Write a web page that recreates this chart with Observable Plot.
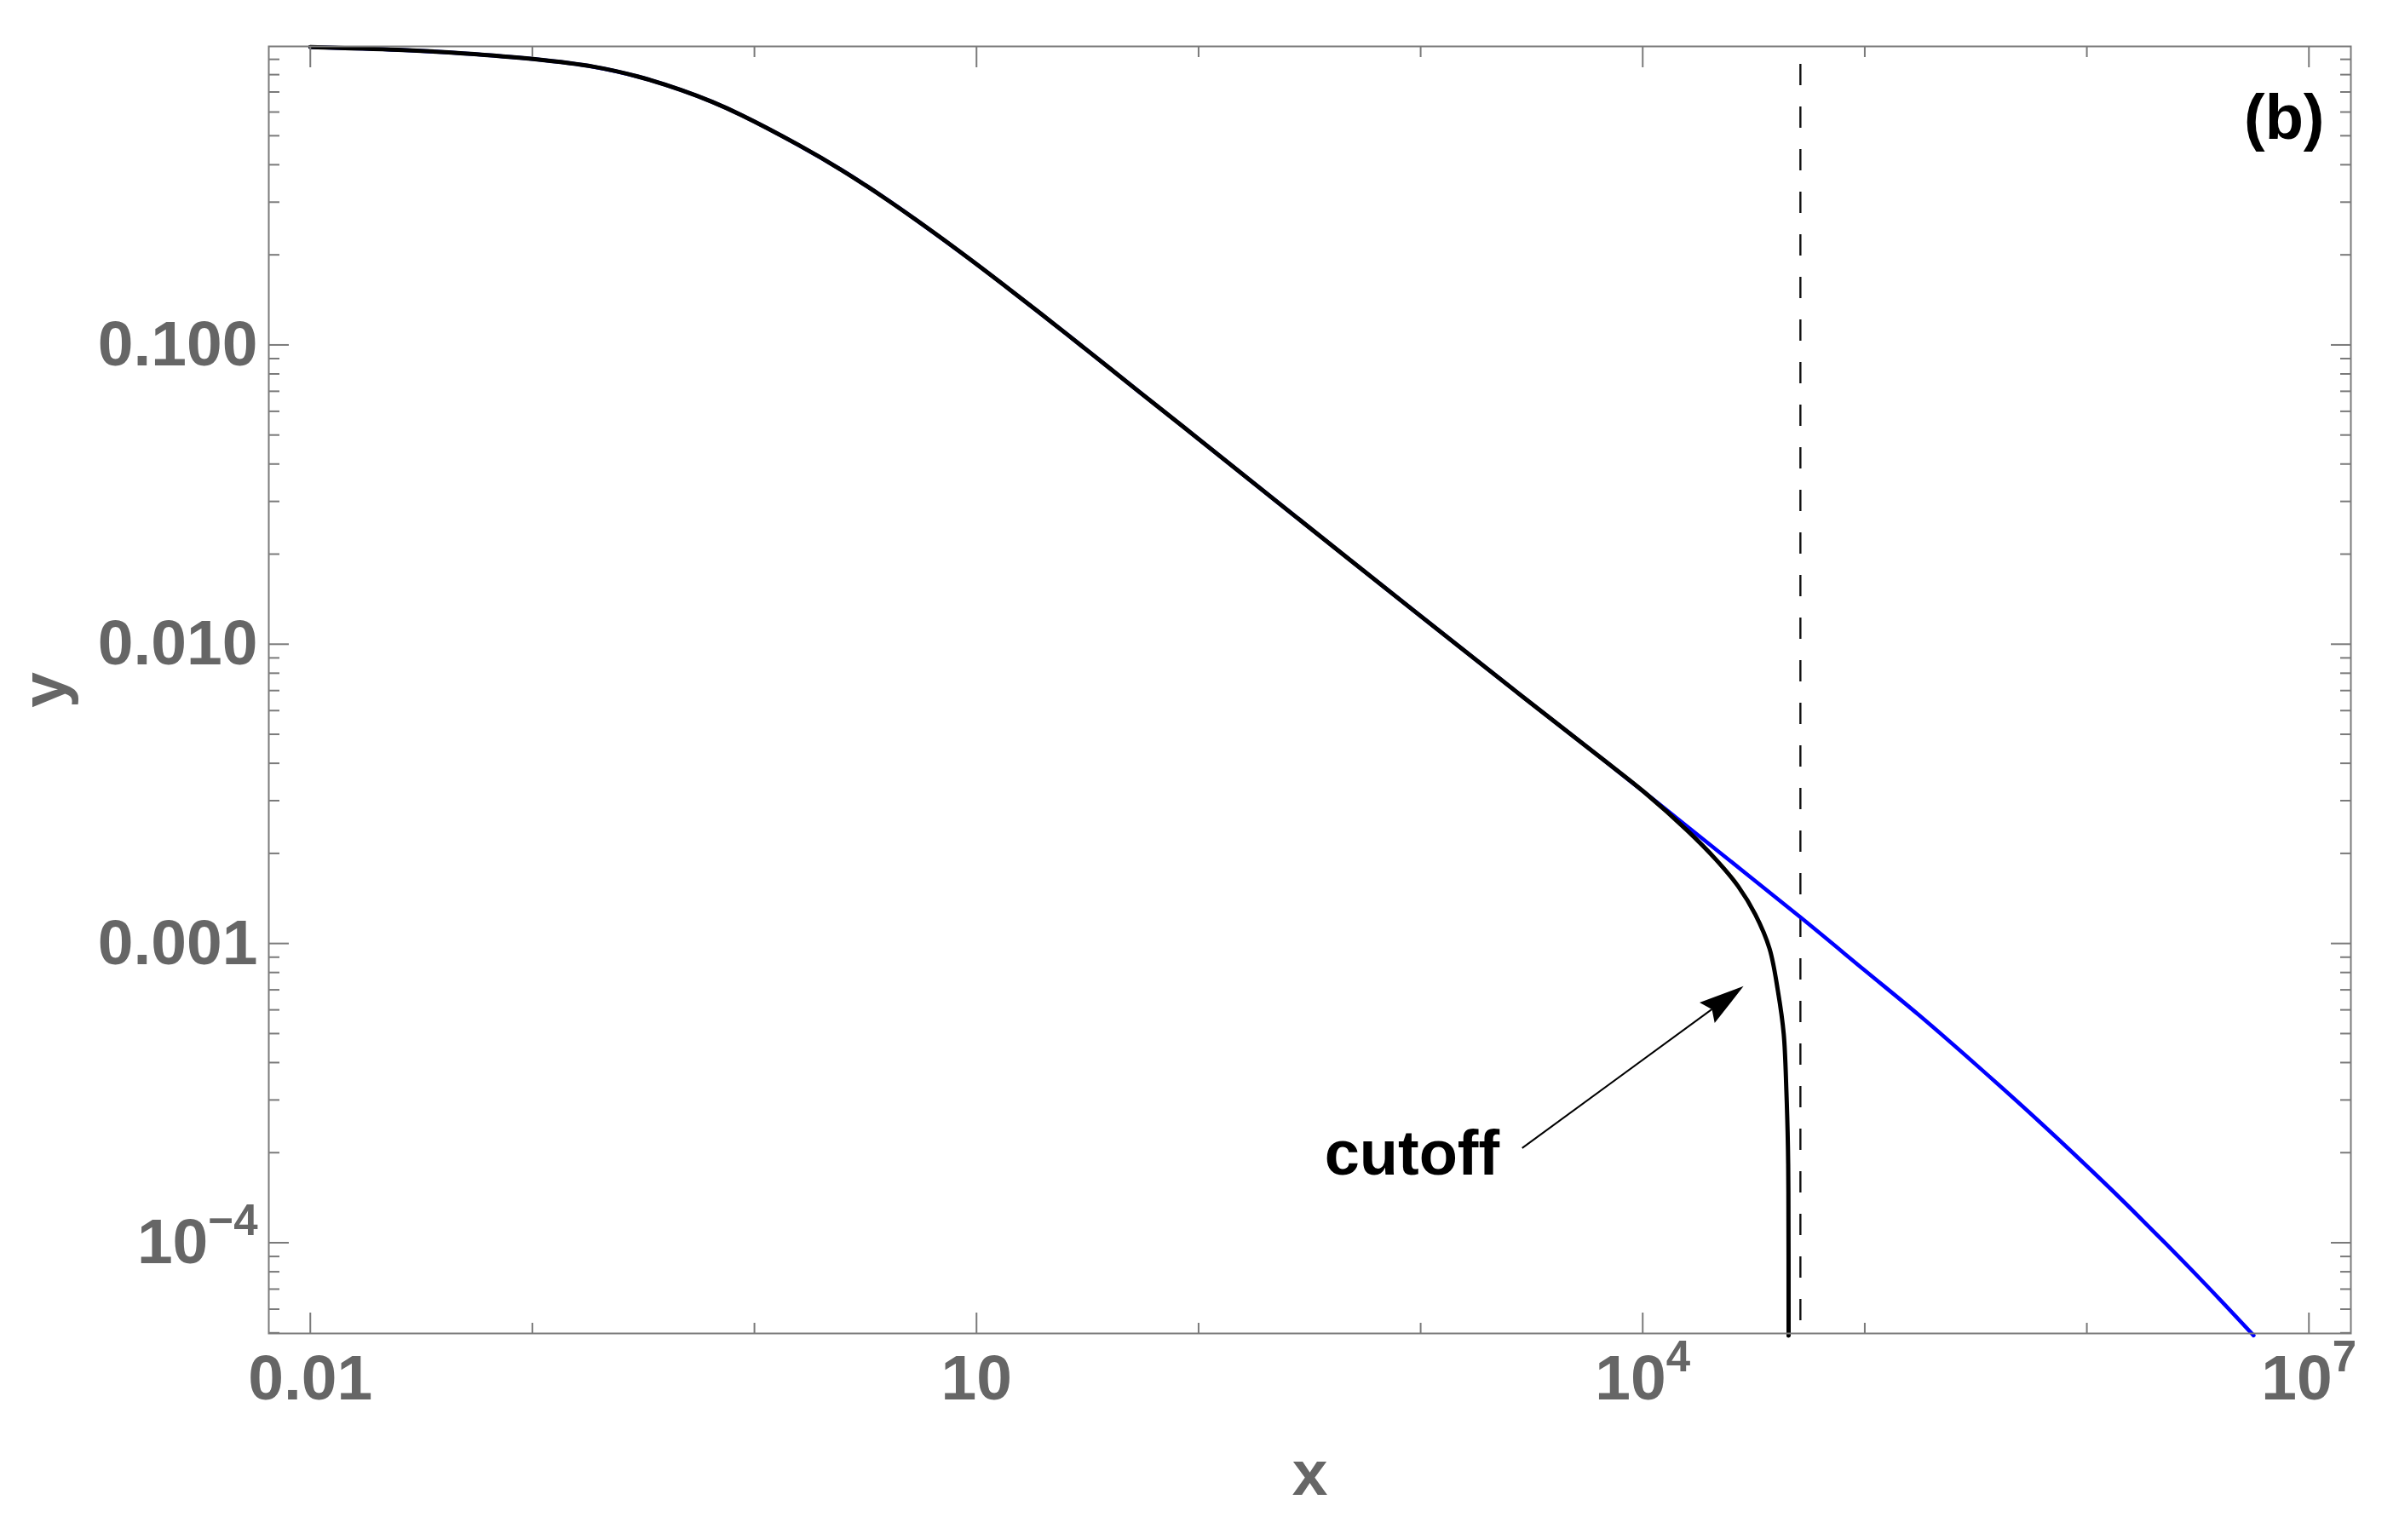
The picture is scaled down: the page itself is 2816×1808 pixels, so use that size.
<!DOCTYPE html>
<html>
<head>
<meta charset="utf-8">
<script src="https://cdn.jsdelivr.net/npm/d3@7"></script>
<script src="https://cdn.jsdelivr.net/npm/@observablehq/plot@0.6"></script>
<style>
  html, body { margin: 0; padding: 0; background: #ffffff; }
  #chart svg { display: block; }
</style>
</head>
<body>
<div id="chart"></div>
<script>
// ---- data ----
const blackX = [0.01, 0.02489, 0.04898, 0.1007, 0.1892, 0.2972, 0.4667, 0.6457, 0.875, 1.578, 2.455, 3.819, 5.929, 9.226,
  14.36, 22.34, 34.67, 53.95, 86.5, 472.1, 2931, 6546, 10190, 15850, 21280, 26920, 32140, 37240, 40640, 43150, 44360, 45080, 45290, 45390];
const blackY = [0.9895, 0.9681, 0.9421, 0.9022, 0.8499, 0.7889, 0.7112, 0.6486, 0.5857, 0.4658, 0.3849, 0.3112, 0.2477, 0.1947,
  0.1516, 0.1174, 0.09067, 0.06976, 0.05284, 0.01932, 0.006607, 0.00415, 0.003199, 0.002388, 0.001914, 0.001552, 0.00125, 0.0009616, 0.0006934, 0.0004989, 0.0003221, 0.0002084, 0.0001469, 0.000049];

const blueX = [0.01, 0.02489, 0.04898, 0.1007, 0.1892, 0.2972, 0.4667, 0.6457, 0.875, 1.578, 2.455, 3.819, 5.929, 9.226,
  14.36, 22.34, 34.67, 53.95, 86.5, 472.1, 2931, 6546, 10190, 15850, 51400, 100000, 174600, 321400, 620900, 1.2e6, 1.799e6, 3.311e6, 5.636e6];
const blueY = [0.9895, 0.9681, 0.9421, 0.9022, 0.8499, 0.7889, 0.7112, 0.6486, 0.5857, 0.4658, 0.3849, 0.3112, 0.2477, 0.1947,
  0.1516, 0.1174, 0.09067, 0.06976, 0.05284, 0.01932, 0.006607, 0.00415, 0.003199, 0.00246, 0.001222, 0.000813, 0.000578, 0.00039, 0.0002512, 0.0001585, 0.000118, 0.00007447, 0.000049];

const cutoffLineX = [51300];

const xMajorTicks = [0.01, 10, 1e4, 1e7];
const xMajorLabels = ["0.01", "10", "10^4", "10^7"];
const xMinorTicks = [0.1, 1, 100, 1000, 1e5, 1e6];
const yMajorTicks = [0.1, 0.01, 0.001, 1e-4];
const yMajorLabels = ["0.100", "0.010", "0.001", "10^\u22124"];
const yMinorMantissas = [2, 3, 4, 5, 6, 7, 8, 9];
const yMinorExponents = [-1, -2, -3, -4, -5];

const annotationText = ["cutoff"];
const annotationX = [914];
const annotationY = [1.694e-4];
const arrowFrom = [2877, 2.065e-4];
const arrowTo = [28580, 7.18e-4];
const panelLabel = ["(b)"];

const xDomain = [0.006501, 1.545e7];
const yDomain = [4.977e-5, 0.994];

// ---- build tables ----
const blackData = blackX.map((x, i) => ({x, y: blackY[i]}));
const blueData = blueX.map((x, i) => ({x, y: blueY[i]}));
const yMinorTicks = [];
for (const e of yMinorExponents) for (const m of yMinorMantissas) {
  const v = m * Math.pow(10, e);
  if (v >= yDomain[0] && v <= yDomain[1]) yMinorTicks.push(v);
}
const annotations = annotationText.map((t, i) => ({text: t, x: annotationX[i], y: annotationY[i]}));

const FONT = "'Liberation Sans', Arial, Helvetica, sans-serif";
const FS = 75;
const AXIS_GRAY = "#7a7a7a";
const LABEL_GRAY = "#666666";

const fmtX = d => xMajorLabels[xMajorTicks.indexOf(d)];
const fmtY = d => yMajorLabels[yMajorTicks.indexOf(d)];
const blank = () => "";

function tickAxisX(ticks, anchor, size) {
  return Plot.axisX({ticks, anchor, tickSize: -size, tickFormat: blank, label: null,
    stroke: AXIS_GRAY, strokeWidth: 2});
}
function tickAxisY(ticks, anchor, size) {
  return Plot.axisY({ticks, anchor, tickSize: -size, tickFormat: blank, label: null,
    stroke: AXIS_GRAY, strokeWidth: 2});
}

// annotation arrow with a filled head, positioned through the plot scales
function cutoffArrow(index, scales) {
  const x1 = scales.x(arrowFrom[0]), y1 = scales.y(arrowFrom[1]);
  const x2 = scales.x(arrowTo[0]), y2 = scales.y(arrowTo[1]);
  const a = Math.atan2(y2 - y1, x2 - x1);
  const c = Math.cos(a), s = Math.sin(a);
  const L = 53, W = 15, N = 46;
  const g = d3.create("svg:g").attr("aria-label", "arrow");
  g.append("line")
    .attr("x1", x1).attr("y1", y1)
    .attr("x2", x2 - N * c).attr("y2", y2 - N * s)
    .attr("stroke", "black").attr("stroke-width", 2);
  const pts = [
    [x2, y2],
    [x2 - L * c + W * s, y2 - L * s - W * c],
    [x2 - N * c, y2 - N * s],
    [x2 - L * c - W * s, y2 - L * s + W * c]
  ];
  g.append("path").attr("d", "M" + pts.map(p => p.join(",")).join("L") + "Z").attr("fill", "black");
  return g.node();
}

const svg = Plot.plot({
  width: 2816,
  height: 1808,
  marginLeft: 315,
  marginRight: 57,
  marginTop: 54,
  marginBottom: 243,
  style: {fontFamily: FONT, background: "#ffffff"},
  x: {type: "log", domain: xDomain},
  y: {type: "log", domain: yDomain},
  marks: [
    Plot.ruleX(cutoffLineX, {stroke: "#111", strokeWidth: 2.4, strokeDasharray: "25,25", strokeDashoffset: 29}),
    Plot.line(blueData, {x: "x", y: "y", stroke: "#0000ff", strokeWidth: 4.6, curve: "catmull-rom"}),
    Plot.line(blackData, {x: "x", y: "y", stroke: "#000000", strokeWidth: 5, curve: "catmull-rom"}),
    Plot.frame({stroke: AXIS_GRAY, strokeWidth: 2}),
    Plot.axisX({ticks: xMajorTicks, anchor: "bottom", tickSize: -24, tickPadding: 48, tickFormat: fmtX,
      fontSize: FS, fontWeight: "bold", fontFamily: FONT, fill: LABEL_GRAY, stroke: AXIS_GRAY, strokeWidth: 2,
      label: "x", labelAnchor: "center", labelOffset: 189, labelArrow: "none"}),
    tickAxisX(xMinorTicks, "bottom", 12),
    tickAxisX(xMajorTicks, "top", 24),
    tickAxisX(xMinorTicks, "top", 12),
    Plot.axisY({ticks: yMajorTicks, anchor: "left", tickSize: -24, tickPadding: 37, tickFormat: fmtY,
      fontSize: FS, fontWeight: "bold", fontFamily: FONT, fill: LABEL_GRAY, stroke: AXIS_GRAY, strokeWidth: 2,
      label: "y", labelAnchor: "center", labelOffset: 292, labelArrow: "none"}),
    tickAxisY(yMinorTicks, "left", 13),
    tickAxisY(yMajorTicks, "right", 24),
    tickAxisY(yMinorTicks, "right", 13),
    Plot.text(annotations, {x: "x", y: "y", text: "text", textAnchor: "middle", lineAnchor: "bottom",
      fontSize: 74, fontWeight: "bold", fontFamily: FONT, fill: "black"}),
    cutoffArrow,
    Plot.text(panelLabel, {frameAnchor: "top-right", dx: -31, dy: 56, lineAnchor: "top",
      fontSize: 74, fontWeight: "bold", fontFamily: FONT, fill: "black"})
  ]
});

// render "10^n" tick labels with real superscripts
d3.select(svg).selectAll("text").each(function () {
  const m = /^(\d+)\^(.+)$/.exec(this.textContent);
  if (!m) return;
  const t = d3.select(this);
  t.text(null);
  t.append("tspan").text(m[1]);
  t.append("tspan").attr("dy", -0.44 * FS).attr("font-size", 0.68 * FS).text(m[2]);
});

document.getElementById("chart").appendChild(svg);
</script>
</body>
</html>
